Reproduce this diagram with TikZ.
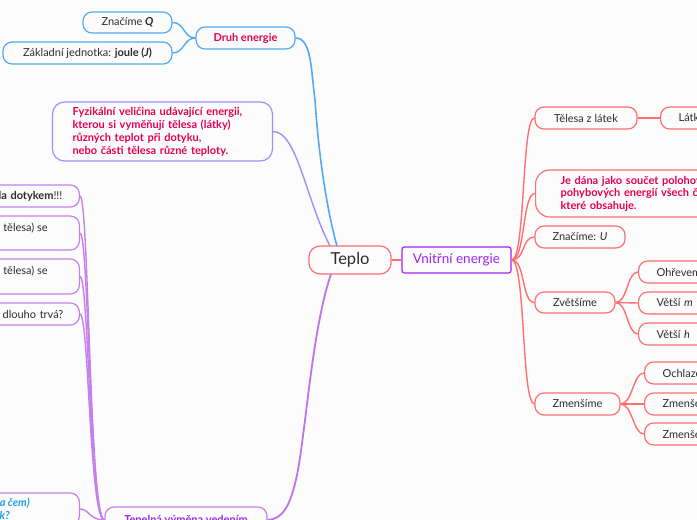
\documentclass[tikz,border=0pt]{standalone}
\usepackage{fontspec}
\setmainfont{Lato}
\definecolor{bgc}{RGB}{253,252,253}
\definecolor{redc}{RGB}{255,112,112}
\definecolor{crim}{RGB}{228,0,82}
\definecolor{bluec}{RGB}{82,170,245}
\definecolor{lavc}{RGB}{160,142,250}
\definecolor{purc}{RGB}{198,128,236}
\definecolor{vnc}{RGB}{158,36,238}
\definecolor{dark}{RGB}{45,45,45}
\definecolor{cyanc}{RGB}{30,160,228}
\tikzset{
 box/.style={rounded corners=9pt, line width=1.2pt, fill=bgc, inner sep=0pt, text=dark, font=\fontsize{11}{13}\selectfont},
 rbox/.style={box, draw=redc},
 bbox/.style={box, draw=bluec},
 lbox/.style={box, draw=lavc},
 pbox/.style={box, draw=purc},
 emtext/.style={text=crim, font=\fontsize{11}{13}\selectfont\bfseries},
 plain/.style={inner sep=0pt, text=dark, font=\fontsize{11}{13}\selectfont},
 lnk/.style={line width=1.4pt},
}
\begin{document}
\begin{tikzpicture}[x=1pt,y=-1pt]
\useasboundingbox (0,0) rectangle (697,520);
\clip (0,0) rectangle (697,520);
\fill[bgc] (-10,-10) rectangle (707,530);

% centre
\node[rbox, rounded corners=11pt, minimum width=82pt, minimum height=28pt, font=\fontsize{16.5}{19}\selectfont] (teplo) at (350,260) {Teplo};
\node[box, draw=vnc, rounded corners=2.5pt, text=vnc, font=\fontsize{13.5}{16}\selectfont, minimum width=109pt, minimum height=26pt] (vnit) at (456.5,260) {Vnitřní energie};

% top left
\node[bbox, emtext, minimum width=99pt, minimum height=22pt] (druh) at (245.5,38) {Druh energie};
\node[bbox, minimum width=89pt, minimum height=21pt] (zq) at (127.5,22.5) {Značíme \textbf{\textit{Q}}};
\node[bbox, minimum width=169pt, minimum height=22pt] (zj) at (87.5,53) {Základní jednotka: \textbf{joule (\textit{J})}};

\node[lbox, emtext, rounded corners=12pt, minimum width=215pt, minimum height=59pt, inner xsep=20pt, text width=180pt, align=left] (fyz) at (162.5,131.5) {Fyzikální veličina udávající energii,\\kterou si vyměňují tělesa (látky)\\různých teplot při dotyku,\\nebo části tělesa různé teploty.};

% left column
\node[pbox, anchor=east, minimum width=200pt, minimum height=22pt, inner xsep=17pt, text width=166pt, align=right] (l1) at (80,196) {\textbf{la dotykem}!!!};
\node[pbox, anchor=east, minimum width=200pt, minimum height=34pt] (l2) at (80,233) {};
\node[plain, anchor=east] (l2t) at (48,228) {tělesa) se};
\node[pbox, anchor=east, minimum width=200pt, minimum height=35pt] (l3) at (80,276.5) {};
\node[plain, anchor=east] (l3t) at (48,271) {tělesa) se};
\node[pbox, anchor=east, minimum width=200pt, minimum height=22pt, inner xsep=16pt, text width=168pt, align=right] (l4) at (80,314) {dlouho trvá?};
\node[pbox, anchor=east, minimum width=200pt, minimum height=32pt] (l5) at (80,509) {};
\node[inner sep=0pt, text=cyanc, font=\fontsize{11}{13}\selectfont\bfseries\itshape, anchor=east] (l5a) at (30,503) {a čem)};
\node[inner sep=0pt, text=cyanc, font=\fontsize{11}{13}\selectfont\bfseries\itshape, anchor=east] (l5b) at (10,515) {k?};

\node[pbox, text=vnc, font=\fontsize{11}{13}\selectfont\bfseries, minimum width=162pt, minimum height=26pt] (tep) at (186,520) {Tepelná výměna vedením};

% right side
\node[rbox, minimum width=102pt, minimum height=22pt] (tel) at (586,118) {Tělesa z látek};
\node[rbox, anchor=west, minimum width=120pt, minimum height=22pt, inner xsep=18pt, text width=84pt, align=left] (lat) at (660,118) {Látky};
\node[rbox, emtext, rounded corners=14pt, anchor=west, minimum width=300pt, minimum height=47pt, inner xsep=25pt, text width=250pt, align=left, font=\fontsize{11}{12.5}\selectfont\bfseries] (je) at (535,193.5) {Je dána jako součet polohových a\\pohybových energií všech částic,\\které obsahuje.};
\node[rbox, minimum width=90pt, minimum height=22pt] (zu) at (580,237) {Značíme: \textit{U}};
\node[rbox, minimum width=80pt, minimum height=21pt] (zv) at (575,302.5) {Zvětšíme};
\node[rbox, anchor=west, minimum width=120pt, minimum height=22pt, inner xsep=18pt, text width=84pt, align=left] (oh) at (638,272) {Ohřevem};
\node[rbox, anchor=west, minimum width=120pt, minimum height=22pt, inner xsep=18pt, text width=84pt, align=left] (vm) at (638,303) {Větší \textit{m}};
\node[rbox, anchor=west, minimum width=120pt, minimum height=22pt, inner xsep=18pt, text width=84pt, align=left] (vh) at (638,334) {Větší \textit{h}};
\node[rbox, minimum width=85pt, minimum height=22pt] (zm) at (577.5,404) {Zmenšíme};
\node[rbox, anchor=west, minimum width=120pt, minimum height=22pt, inner xsep=18pt, text width=84pt, align=left] (och) at (644,373) {Ochlazením};
\node[rbox, anchor=west, minimum width=120pt, minimum height=22pt, inner xsep=18pt, text width=84pt, align=left] (zm1) at (644,404) {Zmenšením \textit{m}};
\node[rbox, anchor=west, minimum width=120pt, minimum height=22pt, inner xsep=18pt, text width=84pt, align=left] (zm2) at (644,434) {Zmenšením \textit{h}};

% connectors
\draw[redc, lnk] (teplo.east) -- (vnit.west);
\foreach \n in {tel,je,zu,zv,zm}
  \draw[redc, lnk] (vnit.east) .. controls +(14,0) and +(-13,0) .. (\n.west);
\foreach \n in {oh,vm,vh}
  \draw[redc, lnk] (zv.east) .. controls +(12,0) and +(-11,0) .. (\n.west);
\foreach \n in {och,zm1,zm2}
  \draw[redc, lnk] (zm.east) .. controls +(12,0) and +(-11,0) .. (\n.west);
\draw[redc, lnk] (tel.east) -- (lat.west);

\draw[bluec, lnk] (druh.west) .. controls +(-12,0) and +(12,0) .. (zq.east);
\draw[bluec, lnk] (druh.west) .. controls +(-12,0) and +(12,0) .. (zj.east);
\coordinate (ttop1) at (337,246);
\coordinate (ttop2) at (330,246);
\coordinate (tbot) at (331,274);
\draw[bluec, line width=1.6pt] (druh.east) .. controls +(16,0) and (311,70) .. (315,100) .. controls (320,175) and (331,225) .. (ttop1);
\draw[lavc, line width=1.4pt] (fyz.east) .. controls +(24,0) and (306,200) .. (ttop2);
\draw[purc!85!vnc, line width=1.8pt] (tbot) .. controls (312,330) and (306,430) .. (297,475) .. controls (290,508) and (282,519) .. (tep.east);

\foreach \n in {l1,l2,l3,l4,l5}
  \draw[purc, lnk] (tep.west) .. controls +(-15,0) and +(9,0) .. (\n.east);
\end{tikzpicture}
\end{document}
